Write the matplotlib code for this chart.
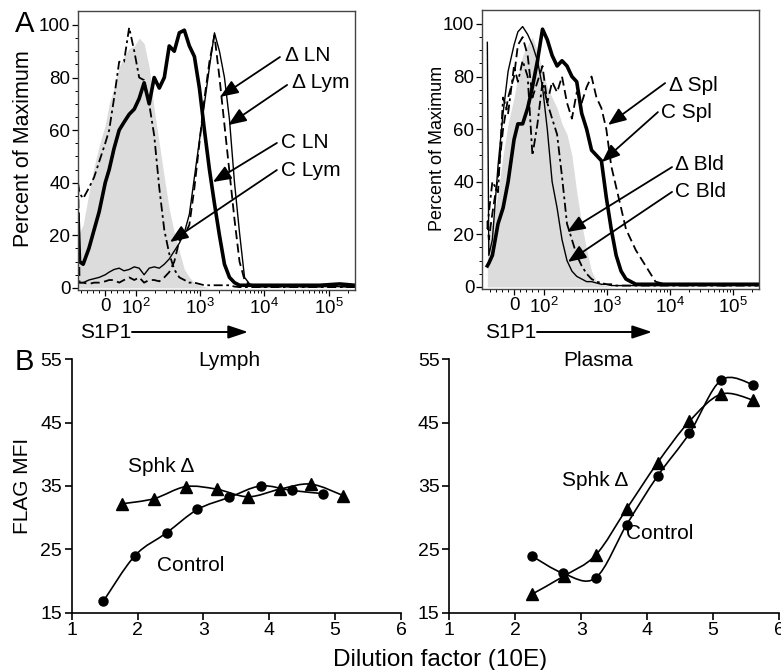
import matplotlib
matplotlib.use("Agg")
import matplotlib.pyplot as plt
from matplotlib.path import Path
from matplotlib.patches import PathPatch
import numpy as np

plt.rcParams['font.family'] = ['Liberation Sans', 'DejaVu Sans']
plt.rcParams['mathtext.fontset'] = 'custom'
plt.rcParams['mathtext.rm'] = 'Liberation Sans'
plt.rcParams['mathtext.it'] = 'Liberation Sans:italic'
plt.rcParams['mathtext.bf'] = 'Liberation Sans:bold'

# ---- A: S1P1 histograms (percent of maximum per fluorescence bin) ----
s1p1 = [-90, -85, -73, -54, -37, -20, 0, 13, 29, 46, 62, 79, 96, 114, 136, 163, 195, 234,
        280, 334, 400, 479, 573, 686, 821, 982, 1175, 1406, 1683, 2011, 2405, 2878,
        3445, 4122, 4932, 5902, 8453, 12080, 20700, 35400, 72600, 148600, 254700]

# lymph panel
gray_lym = [20, 21, 24, 36, 46, 54, 62, 70, 76, 84, 88, 91, 92, 95, 93, 84, 68, 55, 42, 30,
            21, 14, 7, 4, 2, 1, 0.5, 0, 0, 0, 0, 0, 0, 0, 0, 0, 0, 0, 0, 0, 0, 0, 0]
c_lym = [40, 36, 34, 38, 42, 48, 55, 60, 72, 86, 86, 99, 90, 80, 79, 70, 58, 38, 22, 13,
         7, 4, 3, 2, 2, 1.5, 1, 1, 1, 1, 1, 1, 0.5, 0.3, 0.3, 0.3, 0.3, 0.3, 0.3, 0.3, 0.3, 0.3, 0.3]
c_ln = [28, 10, 9, 15, 22, 29, 40, 45, 53, 60, 63, 66, 68, 72, 78, 70, 80, 76, 80, 92,
        90, 97, 98, 92, 88, 76, 60, 45, 32, 20, 9, 4, 2, 1, 1, 1, 1, 1, 1, 1, 1, 1.5, 1]
d_ln = [2, 2, 2, 3, 3.5, 4, 5, 6, 7, 7.5, 6.5, 7, 8, 7.5, 5, 7.5, 8, 7.5, 9, 11,
        14, 17, 21, 28, 42, 56, 70, 84, 97, 90, 80, 64, 40, 21, 4, 1.5, 0.5, 0.5, 0.5, 0.5, 0.5, 0.5, 0.5]
d_lym = [44, 2, 2, 1.5, 2, 2, 2.5, 3, 3, 2, 3, 4, 3, 4, 2, 3, 3, 2.5, 4, 6,
         10, 18, 20, 24, 38, 55, 72, 86, 96, 80, 62, 44, 26, 10, 3, 1, 0.5, 0.5, 0.5, 0.5, 0.5, 0.5, 0.5]

# spleen / blood panel
gray_bld = [18, 20, 24, 36, 50, 62, 72, 80, 88, 92, 95, 90, 82, 76, 72, 68, 62, 58, 50, 36,
            24, 14, 6, 2, 1, 0.5, 0, 0, 0, 0, 0, 0, 0, 0, 0, 0, 0, 0, 0, 0, 0, 0, 0]
c_bld = [93, 12, 18, 46, 66, 82, 92, 97, 99, 96, 92, 86, 76, 60, 40, 30, 18, 10, 6, 4,
         3, 2, 2, 1.5, 1, 1, 0.5, 0.5, 0.5, 0.5, 0.5, 0.5, 0.5, 0.5, 0.5, 0.5, 0.5, 0.5, 0.5, 0.5, 0.5, 0.5, 0.5]
d_bld = [22, 28, 40, 36, 72, 66, 84, 78, 86, 80, 50, 62, 78, 70, 64, 58, 42, 24, 18, 12,
         8, 5, 3, 2, 1.5, 1, 1, 0.5, 0.5, 0.5, 0.5, 0.5, 0.5, 0.5, 0.5, 0.5, 0.5, 0.5, 0.5, 0.5, 0.5, 0.5, 0.5]
c_spl = [8, 9, 12, 24, 30, 40, 56, 62, 62, 68, 76, 86, 98, 94, 88, 84, 86, 84, 80, 78,
         66, 60, 52, 50, 48, 34, 22, 12, 6, 3, 2, 1, 1, 1, 1, 1, 1, 1, 1, 1, 1, 1, 1]
d_spl = [25, 18, 28, 42, 60, 72, 80, 92, 95, 88, 72, 78, 84, 70, 78, 74, 80, 70, 64, 74,
         70, 76, 80, 72, 68, 60, 46, 38, 30, 22, 18, 14, 11, 8, 5, 2, 1, 1, 0.5, 1, 0.5, 1, 0.5]

x_major = [0, 100, 1000, 10000, 100000]
x_major_labels = ['0', r'$\mathregular{10^2}$', r'$\mathregular{10^3}$',
                  r'$\mathregular{10^4}$', r'$\mathregular{10^5}$']
x_minor = ([-80, -60, -40, -20, 20, 40, 60, 80]
           + [m * 10 ** k for k in (2, 3, 4) for m in range(2, 10)] + [200000])

# ---- B: FLAG MFI vs dilution factor ----
lymph_ctrl_x = [1.48, 1.96, 2.44, 2.91, 3.39, 3.87, 4.34, 4.81]
lymph_ctrl_y = [16.8, 24.0, 27.6, 31.3, 33.2, 35.0, 34.3, 33.8]
lymph_sphk_x = [1.77, 2.25, 2.73, 3.20, 3.68, 4.16, 4.63, 5.12]
lymph_sphk_y = [32.2, 33.0, 34.9, 34.5, 33.3, 34.5, 35.3, 33.5]

plasma_ctrl_x = [2.26, 2.73, 3.22, 3.69, 4.16, 4.64, 5.12, 5.61]
plasma_ctrl_y = [23.9, 21.2, 20.5, 28.9, 36.6, 43.3, 51.7, 51.0]
plasma_sphk_x = [2.25, 2.74, 3.22, 3.69, 4.16, 4.64, 5.12, 5.60]
plasma_sphk_y = [17.9, 20.8, 24.1, 31.4, 38.7, 45.2, 49.5, 48.6]

W, H = 781, 670
fig = plt.figure(figsize=(W / 100, H / 100), dpi=100)

# flow-cytometry style axis: linear below 100, log above
LIN = 0.0047


def biex_fwd(v):
    v = np.asarray(v, dtype=float)
    return np.where(v >= 100, np.log10(np.maximum(v, 100)), 2 - (100 - v) * LIN)


def biex_inv(d):
    d = np.asarray(d, dtype=float)
    return np.where(d >= 2, 10 ** np.minimum(d, 12), 100 - (2 - d) / LIN)


def box(l, t, r, b):
    # axes rectangle from pixel edges
    return [l / W, 1 - b / H, (r - l) / W, (b - t) / H]


def hist_panel(ax, xlim, gray, thick, thin, dashed, dashdot):
    ax.set_xscale('function', functions=(biex_fwd, biex_inv))
    ax.fill_between(s1p1, gray, 0, color='#dcdcdc', lw=0)
    ax.plot(s1p1, dashdot, color='k', lw=1.3, ls=(0, (5, 2, 1.5, 2)))
    ax.plot(s1p1, dashed, color='k', lw=1.3, ls=(0, (5, 2.5)))
    ax.plot(s1p1, thin, color='k', lw=1.0)
    ax.plot(s1p1, thick, color='k', lw=2.6)
    ax.set_xlim(*xlim)
    ax.set_ylim(-0.8, 105.3)
    ax.set_xticks(x_major, x_major_labels)
    ax.set_xticks(x_minor, minor=True)
    ax.set_yticks([0, 20, 40, 60, 80, 100])
    ax.set_yticks([v for v in range(5, 105, 5) if v % 20], minor=True)
    ax.tick_params(which='major', direction='out', length=4, width=0.9, labelsize=13.5, pad=1.5)
    ax.tick_params(which='minor', direction='out', length=2, width=0.7)
    for s in ax.spines.values():
        s.set_color('#444444')
        s.set_linewidth(1.0)


def label_arrow(ax, text, start, tip, textpos):
    ax.annotate('', xy=tip, xycoords='axes fraction', xytext=start, textcoords='axes fraction',
                arrowprops=dict(arrowstyle='-|>,head_length=0.55,head_width=0.22', color='k',
                                lw=1.3, mutation_scale=20, shrinkA=0, shrinkB=0))
    ax.text(textpos[0], textpos[1], text, transform=ax.transAxes, fontsize=15,
            ha='left', va='center')


axL = fig.add_axes(box(78, 11, 355, 290))
hist_panel(axL, (-90, 256000), gray_lym, c_ln, d_ln, d_lym, c_lym)
label_arrow(axL, '\u0394 LN', (0.729, 0.835), (0.513, 0.692), (0.747, 0.839))
label_arrow(axL, '\u0394 Lym', (0.755, 0.735), (0.542, 0.591), (0.773, 0.742))
label_arrow(axL, 'C LN', (0.718, 0.527), (0.487, 0.387), (0.733, 0.530))
label_arrow(axL, 'C Lym', (0.718, 0.430), (0.332, 0.172), (0.733, 0.430))

axR = fig.add_axes(box(482, 10, 759, 289))
hist_panel(axR, (-108, 258000), gray_bld, c_spl, c_bld, d_spl, d_bld)
label_arrow(axR, '\u0394 Spl', (0.661, 0.738), (0.455, 0.588), (0.675, 0.731))
label_arrow(axR, 'C Spl', (0.635, 0.634), (0.433, 0.455), (0.646, 0.631))
label_arrow(axR, '\u0394 Bld', (0.686, 0.437), (0.307, 0.204), (0.697, 0.448))
label_arrow(axR, 'C Bld', (0.686, 0.348), (0.310, 0.097), (0.697, 0.351))

fig.text(24 / W, 1 - 149 / H, 'Percent of Maximum', rotation=90, fontsize=15.5,
         ha='center', va='center')
fig.text(437 / W, 1 - 148 / H, 'Percent of Maximum', rotation=90, fontsize=13,
         ha='center', va='center')

# S1P1 arrows under the histograms
for x0, x1, x2 in [(80, 132, 248), (485, 537, 652)]:
    fig.text(x0 / W, 1 - 338 / H, 'S1P1', fontsize=15, ha='left', va='baseline')
    axL.annotate('', xy=(x2 / W, 1 - 332 / H), xycoords='figure fraction',
                 xytext=(x1 / W, 1 - 332 / H), textcoords='figure fraction',
                 arrowprops=dict(arrowstyle='-|>,head_length=0.6,head_width=0.2', color='k',
                                 lw=1.4, mutation_scale=20, shrinkA=0, shrinkB=0))


def smooth_line(ax, x, y):
    pts = np.column_stack([x, y])
    n = len(pts)
    verts = [pts[0]]
    codes = [Path.MOVETO]
    for i in range(n - 1):
        p0 = pts[max(i - 1, 0)]
        p1 = pts[i]
        p2 = pts[i + 1]
        p3 = pts[min(i + 2, n - 1)]
        verts += [p1 + (p2 - p0) / 6, p2 - (p3 - p1) / 6, p2]
        codes += [Path.CURVE4] * 3
    ax.add_patch(PathPatch(Path(verts, codes), fill=False, lw=1.2, ec='k', clip_on=False))


def mfi_panel(ax, cx, cy, sx, sy):
    smooth_line(ax, cx, cy)
    smooth_line(ax, sx, sy)
    ax.plot(cx, cy, 'o', ms=6.5, color='k', clip_on=False)
    ax.plot(sx, sy, '^', ms=8, color='k', clip_on=False)
    ax.set_xlim(1, 6)
    ax.set_ylim(15, 55)
    ax.set_xticks([1, 2, 3, 4, 5, 6])
    ax.set_yticks([15, 25, 35, 45, 55])
    ax.spines['top'].set_visible(False)
    ax.spines['right'].set_visible(False)
    for s in ('left', 'bottom'):
        ax.spines[s].set_linewidth(1.2)
    ax.tick_params(direction='out', length=5, width=1.2, labelsize=14, pad=2)
    ax.patch.set_alpha(0)


axBL = fig.add_axes(box(71.7, 359.3, 401, 612.7))
mfi_panel(axBL, lymph_ctrl_x, lymph_ctrl_y, lymph_sphk_x, lymph_sphk_y)
axBL.text(3.39, 53.9, 'Lymph', fontsize=15, ha='center', va='baseline')
axBL.text(1.855, 37.2, 'Sphk \u0394', fontsize=15, ha='left', va='baseline')
axBL.text(2.294, 21.6, 'Control', fontsize=15, ha='left', va='baseline')
axBL.set_ylabel('FLAG MFI', fontsize=15, labelpad=6)

axBR = fig.add_axes(box(449.3, 359.3, 779, 612.7))
mfi_panel(axBR, plasma_ctrl_x, plasma_ctrl_y, plasma_sphk_x, plasma_sphk_y)
axBR.text(3.256, 53.9, 'Plasma', fontsize=15, ha='center', va='baseline')
axBR.text(2.71, 35.0, 'Sphk \u0394', fontsize=15, ha='left', va='baseline')
axBR.text(3.68, 26.6, 'Control', fontsize=15, ha='left', va='baseline')

fig.text(440 / W, 1 - 666 / H, 'Dilution factor (10E)', fontsize=17.5, ha='center', va='baseline')

fig.text(15 / W, 1 - 32 / H, 'A', fontsize=21, ha='left', va='baseline')
fig.text(15 / W, 1 - 370 / H, 'B', fontsize=21, ha='left', va='baseline')

fig.savefig('out.png', dpi=100)
